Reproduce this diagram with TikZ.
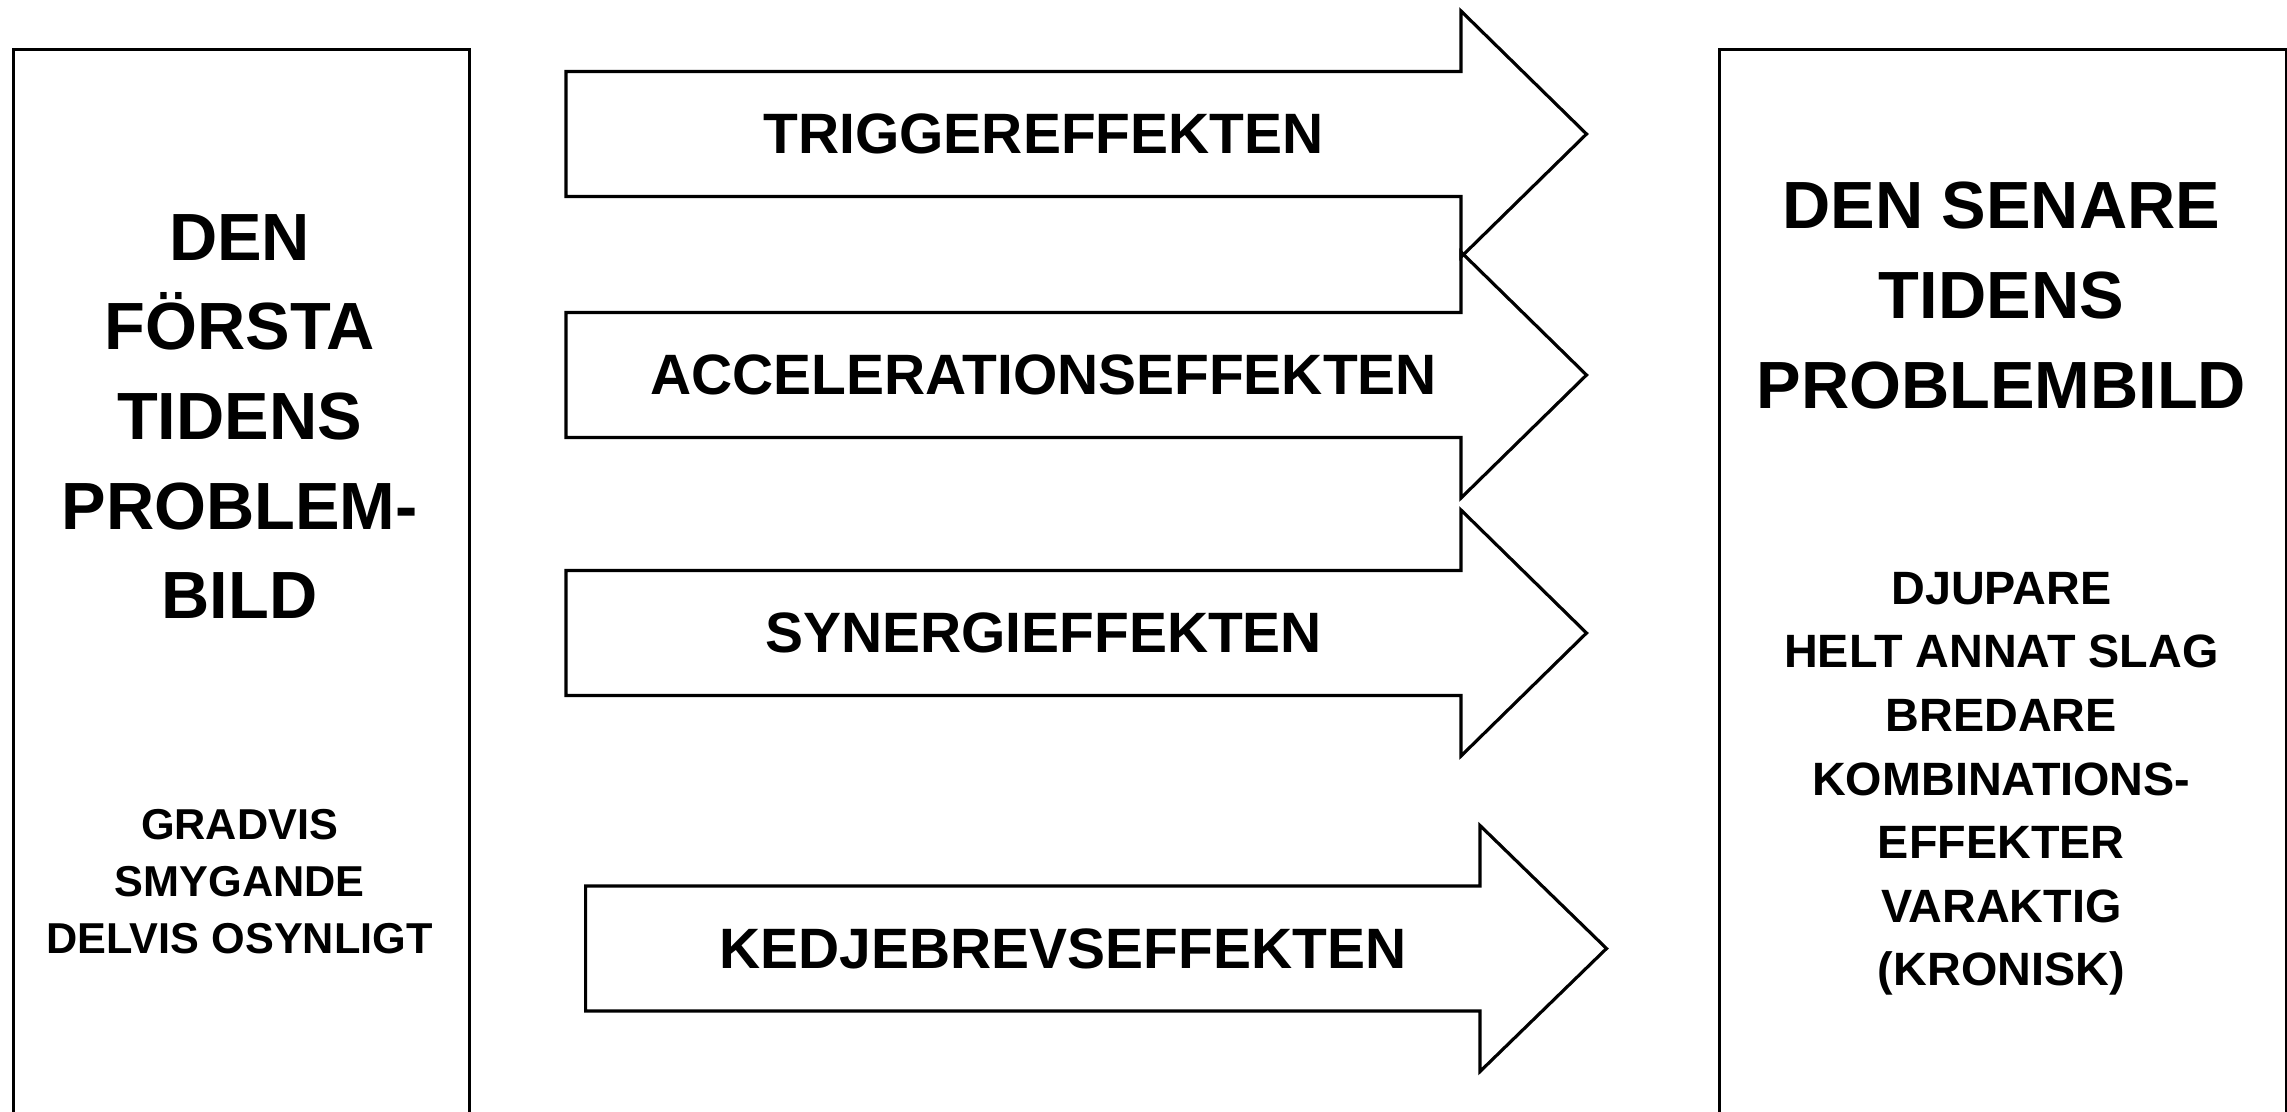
\documentclass[tikz,border=0pt]{standalone}
\usepackage{fontspec}
\setmainfont{Liberation Sans}
\begin{document}
\begin{tikzpicture}[line width=0.9pt, line join=miter,
  panel/.style={draw, rectangle, anchor=north west, inner sep=0pt},
  bigtitle/.style={align=center, inner sep=0pt, anchor=north, font=\fontsize{19pt}{25.5pt}\selectfont\bfseries},
  leftsub/.style={align=center, inner sep=0pt, anchor=north, font=\fontsize{12.3pt}{16.2pt}\selectfont\bfseries},
  rightsub/.style={align=center, inner sep=0pt, anchor=north, font=\fontsize{13.3pt}{18.1pt}\selectfont\bfseries},
  arrowtext/.style={inner sep=0pt, font=\fontsize{16.2pt}{19pt}\selectfont\bfseries}]
\useasboundingbox (0,0) rectangle (22.87,-11.11);
\clip (0,0) rectangle (22.87,-11.11);
% the two side panels, open at the bottom
\node[panel, minimum width=4.562cm, minimum height=11.5cm](first) at (0.115,-0.475){};
\node[panel, minimum width=5.674cm, minimum height=11.5cm](later) at (17.176,-0.475){};
\node[bigtitle](firstT) at (2.396,-2.126){DEN\\FÖRSTA\\TIDENS\\PROBLEM-\\BILD};
\node[leftsub](firstS) at (2.396,-8.08){GRADVIS\\SMYGANDE\\DELVIS OSYNLIGT};
\node[bigtitle](laterT) at (20.013,-1.807){DEN SENARE\\TIDENS\\PROBLEMBILD};
\node[rightsub](laterS) at (20.013,-5.705){DJUPARE\\HELT ANNAT SLAG\\BREDARE\\KOMBINATIONS-\\EFFEKTER\\VARAKTIG\\(KRONISK)};
% block arrows
\draw (5.66,-0.715)--(14.61,-0.715)--(14.61,-0.11)--(15.865,-1.34)--(14.61,-2.57)--(14.61,-1.965)--(5.66,-1.965)--cycle;
\draw (5.66,-3.125)--(14.61,-3.125)--(14.61,-2.52)--(15.865,-3.75)--(14.61,-4.98)--(14.61,-4.375)--(5.66,-4.375)--cycle;
\draw (5.66,-5.705)--(14.61,-5.705)--(14.61,-5.10)--(15.865,-6.33)--(14.61,-7.56)--(14.61,-6.955)--(5.66,-6.955)--cycle;
\draw (5.856,-8.86)--(14.80,-8.86)--(14.80,-8.255)--(16.065,-9.485)--(14.80,-10.715)--(14.80,-10.11)--(5.856,-10.11)--cycle;
\node[arrowtext](trigger) at (10.436,-1.34){TRIGGEREFFEKTEN};
\node[arrowtext](accel) at (10.436,-3.75){ACCELERATIONSEFFEKTEN};
\node[arrowtext](synergy) at (10.436,-6.33){SYNERGIEFFEKTEN};
\node[arrowtext](chain) at (10.63,-9.485){KEDJEBREVSEFFEKTEN};
\end{tikzpicture}
\end{document}
